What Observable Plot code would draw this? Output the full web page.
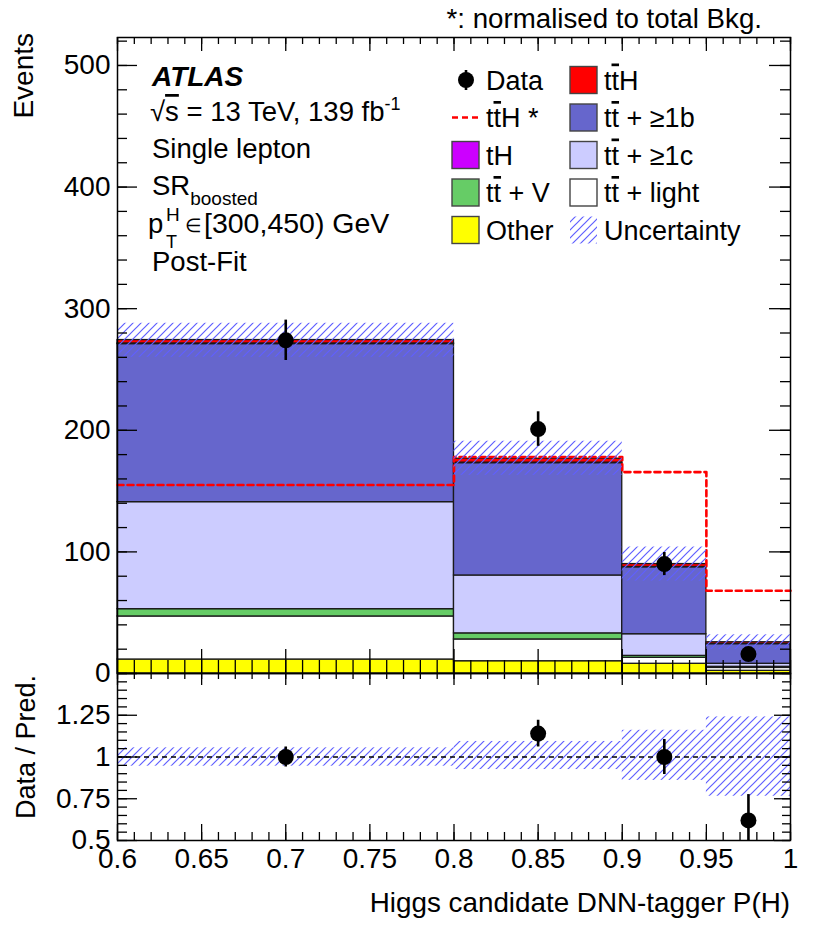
<!DOCTYPE html>
<html><head><meta charset="utf-8">
<script src="https://cdn.jsdelivr.net/npm/d3@7"></script>
<script src="https://cdn.jsdelivr.net/npm/@observablehq/plot@0.6"></script>
<style>
body{margin:0;background:#fff}
#wrap{position:relative;width:830px;height:936px;font-family:"Liberation Sans",Arial,Helvetica,sans-serif;overflow:hidden}
#wrap > svg{position:absolute;left:0}
</style></head><body><div id="wrap"></div>
<script>
// ---------------- data ----------------
const binLo = [0.6, 0.8, 0.9, 0.95];
const binHi = [0.8, 0.9, 0.95, 1.0];
const binCenter = [0.7, 0.85, 0.925, 0.975];
const components = ["Other", "tt+light", "tt+V", "tt+>=1c", "tt+>=1b", "tH", "ttH"];
const compColors = ["#ffff00", "#ffffff", "#66cc66", "#ccccff", "#6666cc", "#cc00ff", "#ff0000"];
const other   = [11.5, 10.1, 8.0, 2.2];
const ttLight = [35.4, 17.9, 4.9, 2.4];
const ttV     = [6.0, 5.0, 1.6, 0.9];
const ttC     = [88.0, 47.6, 17.8, 2.5];
const ttB     = [130.0, 92.4, 55.1, 16.2];
const tH      = [0.5, 0.4, 0.2, 0.1];
const ttH     = [2.8, 3.2, 2.4, 1.4];
const dataVal = [274, 201, 90, 16];
const dataErr = [16.6, 14.2, 9.5, 4.0];
const ttHNorm = [155, 178, 165.6, 68];
const uncLo   = [260, 163, 76, 19.7];
const uncHi   = [288, 191, 104, 31.8];
const ratioVal = [1.0, 1.14, 1.0, 0.62];
const ratioErr = [0.06, 0.08, 0.105, 0.155];
const ratioUncLo = [0.945, 0.925, 0.86, 0.765];
const ratioUncHi = [1.055, 1.093, 1.16, 1.24];
const xTickLabels = [0.6, 0.65, 0.7, 0.75, 0.8, 0.85, 0.9, 0.95, 1];
const xMinorTicks = d3.range(60, 101).map(d => d / 100);
const yMainLabels = [0, 100, 200, 300, 400, 500];
const yMainMinor = d3.range(0, 521, 20);
const yRatioLabels = [0.5, 0.75, 1, 1.25];
const yRatioMajor = [0.5, 0.75, 1, 1.25, 1.5];
const yRatioMinor = d3.range(50, 151, 5).map(d => d / 100);

// ---------------- layout ----------------
const W = 830, ML = 117, MR = 40;
const PW = W - ML - MR;          // 673
const mainTop = 37, mainH = 673; // svg height
const PH = mainH - mainTop;      // 636
const ratioH = 263, ratioMB = 96, RPH = ratioH - ratioMB; // 167
const font = "Liberation Sans, Arial, Helvetica, sans-serif";

// stacked rows
const series = [other, ttLight, ttV, ttC, ttB, tH, ttH];
const stackRows = [];
binLo.forEach((lo, i) => {
  let base = 0;
  series.forEach((s, k) => {
    stackRows.push({x1: lo, x2: binHi[i], y1: base, y2: base + s[i], fill: compColors[k], comp: components[k]});
    base += s[i];
  });
});
const bins = binLo.map((lo, i) => ({
  x1: lo, x2: binHi[i], xc: binCenter[i],
  d: dataVal[i], de: dataErr[i], lo: uncLo[i], hi: uncHi[i],
  r: ratioVal[i], re: ratioErr[i], rlo: ratioUncLo[i], rhi: ratioUncHi[i]
}));
const stepPts = binLo.map((lo, i) => ({x: lo, y: ttHNorm[i]}))
  .concat([{x: binHi[binHi.length - 1], y: ttHNorm[ttHNorm.length - 1]}]);

function ticksAll(xMaj, xMin, yMaj, yMin, h, L) {
  // inward ROOT-style ticks on all four sides
  return [
    Plot.tickX(xMin, {x: d => d, insetTop: h - L.bMin, stroke: "black", strokeWidth: 1.3}),
    Plot.tickX(xMaj, {x: d => d, insetTop: h - L.bMaj, stroke: "black", strokeWidth: 1.3}),
    Plot.tickX(xMin, {x: d => d, insetBottom: h - L.tMin, stroke: "black", strokeWidth: 1.3}),
    Plot.tickX(xMaj, {x: d => d, insetBottom: h - L.tMaj, stroke: "black", strokeWidth: 1.3}),
    Plot.tickY(yMin, {y: d => d, insetRight: PW - L.lMin, stroke: "black", strokeWidth: 1.3}),
    Plot.tickY(yMaj, {y: d => d, insetRight: PW - L.lMaj, stroke: "black", strokeWidth: 1.3}),
    Plot.tickY(yMin, {y: d => d, insetLeft: PW - L.rMin, stroke: "black", strokeWidth: 1.3}),
    Plot.tickY(yMaj, {y: d => d, insetLeft: PW - L.rMaj, stroke: "black", strokeWidth: 1.3})
  ];
}

const hatchDef = id => `<pattern id="${id}" patternUnits="userSpaceOnUse" width="8" height="8">
  <path d="M-2,2 L2,-2 M0,8 L8,0 M6,10 L10,6" stroke="#5f5fff" stroke-width="1.2" fill="none"/></pattern>`;

// ---------------- main panel ----------------
const main = Plot.plot({
  width: W, height: mainH,
  marginLeft: ML, marginRight: MR, marginTop: mainTop, marginBottom: 0,
  style: {fontFamily: font, fontSize: "28px", background: "transparent", overflow: "visible", color: "black"},
  x: {domain: [0.6, 1.0], axis: null},
  y: {domain: [0, 523]},
  marks: [
    Plot.rect(stackRows, {x1: "x1", x2: "x2", y1: "y1", y2: "y2", fill: "fill", stroke: "#1a1a1a", strokeWidth: 1.3}),
    Plot.line(stepPts, {x: "x", y: "y", curve: "step-after", stroke: "#ff0000", strokeWidth: 2.6, strokeDasharray: "6,4"}),
    Plot.rect(bins, {x1: "x1", x2: "x2", y1: "lo", y2: "hi", fill: "url(#hatchA)"}),
    Plot.ruleX(bins, {x: "xc", y1: d => d.d - d.de, y2: d => d.d + d.de, stroke: "black", strokeWidth: 2.6}),
    Plot.dot(bins, {x: "xc", y: "d", r: 8, fill: "black"}),
    ...ticksAll(xTickLabels, xMinorTicks, yMainLabels, yMainMinor, PH,
      {bMaj: 24, bMin: 13, tMaj: 14, tMin: 7, lMaj: 20, lMin: 10, rMaj: 21, rMin: 10}),
    Plot.frame({stroke: "black", strokeWidth: 1.5}),
    Plot.axisY({ticks: yMainLabels, tickSize: 0, tickPadding: 7, label: null, tickFormat: d => String(d)})
  ]
});
main.style.top = "0px";
{ const defs = document.createElementNS("http://www.w3.org/2000/svg", "defs"); defs.innerHTML = hatchDef("hatchA"); main.prepend(defs); }

// ---------------- ratio panel ----------------
const ratio = Plot.plot({
  width: W, height: ratioH,
  marginLeft: ML, marginRight: MR, marginTop: 0, marginBottom: ratioMB,
  style: {fontFamily: font, fontSize: "28px", background: "transparent", overflow: "visible", color: "black"},
  x: {domain: [0.6, 1.0]},
  y: {domain: [0.5, 1.5]},
  marks: [
    Plot.rect(bins, {x1: "x1", x2: "x2", y1: "rlo", y2: "rhi", fill: "url(#hatchB)"}),
    Plot.ruleY([1], {stroke: "black", strokeWidth: 1.4, strokeDasharray: "5,4"}),
    Plot.ruleX(bins, {x: "xc", y1: d => d.r - d.re, y2: d => d.r + d.re, stroke: "black", strokeWidth: 2.6, clip: true}),
    Plot.dot(bins, {x: "xc", y: "r", r: 8, fill: "black"}),
    ...ticksAll(xTickLabels, xMinorTicks, yRatioMajor, yRatioMinor, RPH,
      {bMaj: 16, bMin: 8, tMaj: 12, tMin: 6, lMaj: 20, lMin: 10, rMaj: 16, rMin: 8}),
    Plot.frame({stroke: "black", strokeWidth: 1.5}),
    Plot.axisY({ticks: yRatioLabels, tickSize: 0, tickPadding: 7, label: null, tickFormat: d => String(d)}),
    Plot.axisX({ticks: xTickLabels, tickSize: 0, tickPadding: 8, label: null, tickFormat: d => String(d)})
  ]
});
ratio.style.top = mainH + "px";
{ const defs = document.createElementNS("http://www.w3.org/2000/svg", "defs"); defs.innerHTML = hatchDef("hatchB"); ratio.prepend(defs); }

const wrap = document.getElementById("wrap");
wrap.append(main, ratio);

// ---------------- annotations & legend ----------------
const OL = s => `<tspan style="text-decoration:overline">${s}</tspan>`;
const tt = "t" + OL("t");
const legendLabels = [
  ["Data", `${tt}H *`, "tH", `${tt} + V`, "Other"],
  [`${tt}H`, `${tt} + ≥1b`, `${tt} + ≥1c`, `${tt} + light`, "Uncertainty"]
];
const legendKinds = [
  [{k: "data"}, {k: "dash"}, {k: "box", c: compColors[5]}, {k: "box", c: compColors[2]}, {k: "box", c: compColors[0]}],
  [{k: "box", c: compColors[6]}, {k: "box", c: compColors[4]}, {k: "box", c: compColors[3]}, {k: "box", c: compColors[1]}, {k: "hatch"}]
];
const legX = [452, 570], legTextX = [486, 604], legY0 = 80, legDy = 37.5, box = 27;

let s = `<svg xmlns="http://www.w3.org/2000/svg" width="830" height="936" style="top:0;pointer-events:none;font-family:${font}">`;
s += `<defs>${hatchDef("hatchL")}</defs>`;
legendLabels.forEach((col, ci) => col.forEach((lab, ri) => {
  const cy = legY0 + ri * legDy, x = legX[ci], kind = legendKinds[ci][ri];
  if (kind.k === "data") {
    s += `<line x1="${x + 14}" x2="${x + 14}" y1="${cy - 10}" y2="${cy + 10}" stroke="black" stroke-width="2.6"/>`;
    s += `<circle cx="${x + 14}" cy="${cy}" r="8" fill="black"/>`;
  } else if (kind.k === "dash") {
    s += `<line x1="${x}" x2="${x + box + 2}" y1="${cy}" y2="${cy}" stroke="#ff0000" stroke-width="2.6" stroke-dasharray="6,4"/>`;
  } else if (kind.k === "box") {
    s += `<rect x="${x}" y="${cy - box / 2}" width="${box}" height="${box}" fill="${kind.c}" stroke="#444" stroke-width="1.4"/>`;
  } else {
    s += `<rect x="${x}" y="${cy - box / 2}" width="${box}" height="${box}" fill="url(#hatchL)"/>`;
  }
  s += `<text x="${legTextX[ci]}" y="${cy + 9.5}" font-size="27">${lab}</text>`;
}));
// left text block
s += `<text x="152" y="86" font-size="28" font-weight="bold" font-style="italic">ATLAS</text>`;
s += `<text x="150" y="121" font-size="27.5">√${OL("s")} = 13 TeV, 139 fb<tspan dy="-11" font-size="18">-1</tspan></text>`;
s += `<text x="152" y="158" font-size="27.5">Single lepton</text>`;
s += `<text x="152" y="195" font-size="27.5">SR<tspan dy="10" font-size="19">boosted</tspan></text>`;
s += `<text x="148" y="233" font-size="27.5">p</text>`;
s += `<text x="166" y="221" font-size="19">H</text>`;
s += `<text x="166" y="248" font-size="18">T</text>`;
s += `<text x="185" y="232" font-size="19">∈</text>`;
s += `<text x="204" y="233" font-size="28.5">[300,450) GeV</text>`;
s += `<text x="152" y="271" font-size="27.5">Post-Fit</text>`;
// top caption
s += `<text x="762" y="28" font-size="27.7" text-anchor="end">*: normalised to total Bkg.</text>`;
// axis titles
s += `<text transform="translate(33,33) rotate(-90)" font-size="28" text-anchor="end">Events</text>`;
s += `<text transform="translate(35,675) rotate(-90)" font-size="27" text-anchor="end">Data / Pred.</text>`;
s += `<text x="790" y="912" font-size="27.8" text-anchor="end">Higgs candidate DNN-tagger P(H)</text>`;
s += `</svg>`;
wrap.insertAdjacentHTML("beforeend", s);
</script></body></html>
